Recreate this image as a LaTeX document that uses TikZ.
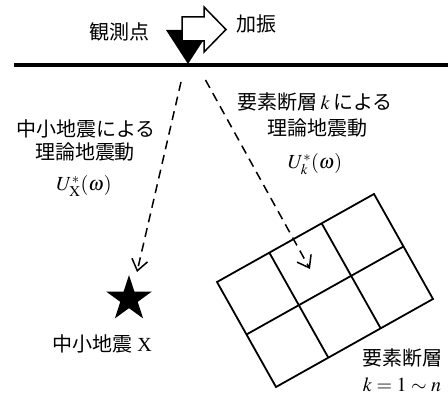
\documentclass[tikz,border=0pt]{standalone}
\usepackage{mathptmx}
\usepackage{fontspec}
\setmainfont{Liberation Serif}
\newfontfamily\jp{Noto Sans CJK JP}
\usetikzlibrary{arrows.meta,shapes.geometric,calc}
\begin{document}
\begin{tikzpicture}[x=1pt,y=-1pt,
  lbl/.style={font=\fontsize{20}{24}\selectfont, inner sep=0pt},
  dasharrow/.style={line width=1.5pt, dash pattern=on 9pt off 6pt, -{Straight Barb[length=11pt,width=16pt,line width=1.5pt]}},
  gridline/.style={line width=1.8pt},
  blockarrow/.style={line width=1.5pt, fill=white, line join=miter},
]
\useasboundingbox (0,0) rectangle (448,398);
% ground
\coordinate (g1) at (14,65);
\coordinate (g2) at (448,65);
\draw[line width=3.5pt] (g1) -- (g2);
% observation point triangle
\coordinate (apex) at (188,64);
\fill (166,30) -- (210,30) -- (apex) -- cycle;
% excitation arrow
\draw[blockarrow] (182,17) -- (204,17) -- (204,7) -- (226,29.5) -- (204,52) -- (204,41) -- (182,41) -- cycle;
\node[lbl] (obs) at (119,32) {\jp 観測点};
\node[lbl] (kashin) at (256,24) {\jp 加振};
% left texts
\node[lbl] (t1a) at (86,129) {\jp 中小地震による};
\node[lbl] (t1b) at (85,152) {\jp 理論地震動};
\node[lbl] (u1) at (84,186) {$U^{*}_{\mathrm{X}}(\omega)$};
% right texts
\node[lbl] (t2a) at (315,102) {{\jp 要素断層}\,$k$\,{\jp による}};
\node[lbl] (t2b) at (317,128) {\jp 理論地震動};
\node[lbl] (u2) at (315,164) {$U^{*}_{k}(\omega)$};
% star
\node[star, star points=5, star point ratio=2.618, minimum size=48pt, fill, inner sep=0pt] (star) at (129,299) {};
\node[lbl] (starlbl) at (102,344) {{\jp 中小地震} X};
% grid of element faults
\coordinate (L) at (217,282);
\coordinate (T) at (374,194);
\coordinate (R) at (433,299);
\coordinate (B) at (276,387);
\draw[gridline, line join=miter] (L) -- (T) -- (R) -- (B) -- cycle;
\draw[gridline] ($(L)!1/3!(T)$) -- ($(B)!1/3!(R)$);
\draw[gridline] ($(L)!2/3!(T)$) -- ($(B)!2/3!(R)$);
\draw[gridline] ($(L)!0.5!(B)$) -- ($(T)!0.5!(R)$);
\node[lbl, anchor=west] (fltlbl) at (362,358) {\jp 要素断層};
\node[lbl] (kn) at (402,385) {$k=1\sim n$};
% dashed arrows
\coordinate (s1) at (181,82);
\coordinate (e1) at (137,272);
\coordinate (s2) at (205.5,80);
\coordinate (e2) at (310,269);
\draw[dasharrow] (s1) -- (e1);
\draw[dasharrow] (s2) -- (e2);
\end{tikzpicture}
\end{document}
